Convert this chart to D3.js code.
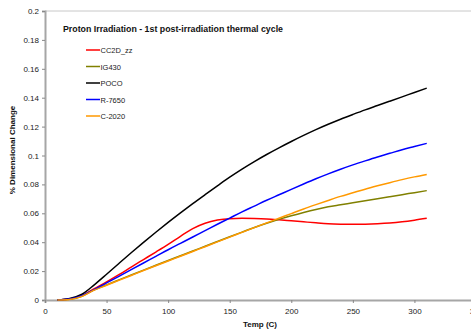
<!DOCTYPE html>
<html>
<head>
<meta charset="utf-8">
<script src="https://cdn.jsdelivr.net/npm/d3@7"></script>
<style>
  html, body { margin: 0; padding: 0; background: #fff; }
  svg { display: block; font-family: "Liberation Sans", Arial, sans-serif; }
</style>
</head>
<body>
<div id="chart"></div>
<script>
// temperatures (C) at which values were read
const temps = [10, 20, 30, 40, 50, 60, 70, 80, 90, 100, 110, 120, 130, 140, 150, 160, 170, 180, 190, 200, 210, 220, 230, 240, 250, 260, 270, 280, 290, 300, 310];

const cc2d = [0, 0.0007, 0.003, 0.0078, 0.0125, 0.0175, 0.0228, 0.028, 0.0332, 0.0385, 0.0441, 0.0494, 0.0531, 0.0553, 0.0563, 0.0565, 0.0564, 0.0561, 0.0555, 0.0548, 0.0541, 0.0534, 0.0528, 0.0525, 0.0524, 0.0525, 0.0528, 0.0533, 0.0541, 0.0552, 0.0565];
const ig430 = [0, 0.0005, 0.0026, 0.007, 0.0105, 0.0139, 0.0173, 0.0207, 0.024, 0.0273, 0.0306, 0.0339, 0.0372, 0.0405, 0.0438, 0.047, 0.0502, 0.0531, 0.0558, 0.0583, 0.0606, 0.0627, 0.0645, 0.0659, 0.0673, 0.0687, 0.0701, 0.0715, 0.0729, 0.0743, 0.0757];
const poco = [0, 0.001, 0.004, 0.0105, 0.0178, 0.0253, 0.0327, 0.0399, 0.0469, 0.0537, 0.0603, 0.0667, 0.0729, 0.079, 0.085, 0.0906, 0.0958, 0.1007, 0.1053, 0.1097, 0.1139, 0.1179, 0.1216, 0.1251, 0.1284, 0.1316, 0.1346, 0.1376, 0.1406, 0.1436, 0.1466];
const r7650 = [0, 0.0007, 0.003, 0.0072, 0.0118, 0.0164, 0.021, 0.0256, 0.0302, 0.0348, 0.0392, 0.0436, 0.048, 0.0524, 0.0567, 0.061, 0.065, 0.069, 0.0728, 0.0766, 0.0803, 0.0839, 0.0873, 0.0905, 0.0935, 0.0963, 0.099, 0.1015, 0.104, 0.1062, 0.1084];
const c2020 = [0, 0.0004, 0.0025, 0.0068, 0.0102, 0.0136, 0.017, 0.0204, 0.0237, 0.027, 0.0303, 0.0336, 0.0369, 0.0402, 0.0435, 0.0468, 0.0501, 0.0534, 0.0566, 0.0598, 0.063, 0.066, 0.0689, 0.0717, 0.0742, 0.0767, 0.079, 0.0812, 0.0833, 0.0852, 0.0869];

const seriesNames = ['CC2D_zz', 'IG430', 'POCO', 'R-7650', 'C-2020'];
const seriesValues = [cc2d, ig430, poco, r7650, c2020];
const seriesColors = ['#ff0000', '#808000', '#000000', '#0000ff', '#ff9900'];

const xTicks = [0, 50, 100, 150, 200, 250, 300, 350];
const yTicks = [0, 0.02, 0.04, 0.06, 0.08, 0.1, 0.12, 0.14, 0.16, 0.18, 0.2];

const title = 'Proton Irradiation - 1st post-irradiation thermal cycle';
const xTitle = 'Temp (C)';
const yTitle = '% Dimensional Change';

const width = 471, height = 330;
const margin = { left: 45, top: 11, bottom: 30 };
const plotRight = 476;

const svg = d3.select('#chart').append('svg')
    .attr('width', width)
    .attr('height', height);

const x = d3.scaleLinear().domain([0, 350]).range([margin.left, plotRight]);
const y = d3.scaleLinear().domain([0, 0.2]).range([height - margin.bottom, margin.top]);

// plot frame (top edge visible)
svg.append('line')
    .attr('x1', margin.left).attr('x2', width)
    .attr('y1', y(0.2)).attr('y2', y(0.2))
    .attr('stroke', '#c8c8c8').attr('stroke-width', 1);

// y axis
const yAxis = svg.append('g')
    .attr('transform', `translate(${margin.left},0)`)
    .call(d3.axisLeft(y).tickValues(yTicks).tickSize(3).tickPadding(3)
        .tickFormat(d => d3.format('~g')(d)));
yAxis.select('.domain').attr('stroke', '#a6a6a6').attr('stroke-width', 2);
yAxis.selectAll('.tick line').attr('stroke', '#888');
yAxis.selectAll('.tick text').attr('font-size', 8).attr('fill', '#222');

// x axis
const xAxis = svg.append('g')
    .attr('transform', `translate(0,${y(0)})`)
    .call(d3.axisBottom(x).tickValues(xTicks).tickSize(3).tickPadding(5));
xAxis.select('.domain').attr('stroke', '#a6a6a6').attr('stroke-width', 2);
xAxis.selectAll('.tick line').attr('stroke', '#888');
xAxis.selectAll('.tick text').attr('font-size', 8).attr('fill', '#222');

// lines
const line = d3.line()
    .x((d, i) => x(temps[i]))
    .y(d => y(d))
    .curve(d3.curveMonotoneX);

seriesValues.forEach((vals, i) => {
    svg.append('path')
        .datum(vals)
        .attr('fill', 'none')
        .attr('stroke', seriesColors[i])
        .attr('stroke-width', 1.5)
        .attr('d', line);
});

// title
svg.append('text')
    .attr('x', 63).attr('y', 32)
    .attr('font-size', 8.8).attr('font-weight', 'bold')
    .attr('fill', '#111')
    .text(title);

// legend
const legend = svg.append('g');
seriesNames.forEach((name, i) => {
    const ly = 50 + i * 16.5;
    legend.append('line')
        .attr('x1', 86).attr('x2', 100)
        .attr('y1', ly).attr('y2', ly)
        .attr('stroke', seriesColors[i]).attr('stroke-width', 1.5);
    legend.append('text')
        .attr('x', 100.5).attr('y', ly + 3)
        .attr('font-size', 7.5).attr('fill', '#222')
        .text(name);
});

// axis titles
svg.append('text')
    .attr('x', 260).attr('y', 327)
    .attr('text-anchor', 'middle')
    .attr('font-size', 8).attr('font-weight', 'bold')
    .attr('fill', '#111')
    .text(xTitle);

svg.append('text')
    .attr('transform', `translate(15,150) rotate(-90)`)
    .attr('text-anchor', 'middle')
    .attr('font-size', 8).attr('font-weight', 'bold')
    .attr('fill', '#111')
    .text(yTitle);
</script>
</body>
</html>
